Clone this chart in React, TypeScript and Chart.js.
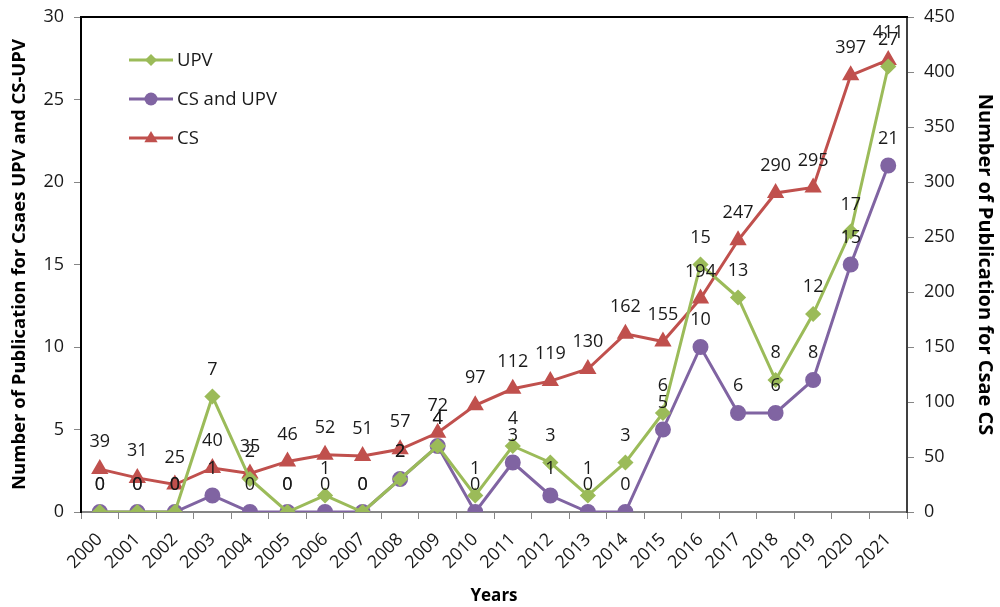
import React, { useEffect, useRef } from "react";
import { Chart, registerables } from "chart.js";

Chart.register(...registerables);

const years = ["2000","2001","2002","2003","2004","2005","2006","2007","2008","2009","2010","2011","2012","2013","2014","2015","2016","2017","2018","2019","2020","2021"];
const upv = [0,0,0,7,2,0,1,0,2,4,1,4,3,1,3,6,15,13,8,12,17,27];
const csAndUpv = [0,0,0,1,0,0,0,0,2,4,0,3,1,0,0,5,10,6,6,8,15,21];
const cs = [39,31,25,40,35,46,52,51,57,72,97,112,119,130,162,155,194,247,290,295,397,411];

const leftTicks = { min: 0, max: 30, step: 5 };
const rightTicks = { min: 0, max: 450, step: 50 };

const FONT = "'Open Sans', 'DejaVu Sans', sans-serif";
const GREEN = "#9BBB59";
const PURPLE = "#8064A2";
const RED = "#C0504D";

const labelsPlugin = {
  id: "valueLabels",
  afterDatasetsDraw(chart: any) {
    const ctx = chart.ctx;
    ctx.save();
    ctx.font = `18px ${FONT}`;
    ctx.fillStyle = "#1a1a1a";
    ctx.textAlign = "center";
    ctx.textBaseline = "middle";
    chart.data.datasets.forEach((ds: any, i: number) => {
      const meta = chart.getDatasetMeta(i);
      meta.data.forEach((pt: any, j: number) => {
        ctx.fillText(String(ds.data[j]), pt.x, pt.y - 27);
      });
    });
    ctx.restore();
  },
};

const framePlugin = {
  id: "frameLegend",
  afterDraw(chart: any) {
    const ctx = chart.ctx;
    const a = chart.chartArea;
    ctx.save();
    ctx.strokeStyle = "#000";
    ctx.lineWidth = 2;
    ctx.beginPath();
    ctx.moveTo(a.left - 1, a.top);
    ctx.lineTo(a.right + 1, a.top);
    ctx.stroke();
    // legend
    const items = chart.data.datasets;
    const ys = [60, 99, 138];
    items.forEach((ds: any, i: number) => {
      const y = ys[i];
      ctx.strokeStyle = ds.borderColor;
      ctx.lineWidth = 3;
      ctx.beginPath();
      ctx.moveTo(129, y);
      ctx.lineTo(173, y);
      ctx.stroke();
      ctx.fillStyle = ds.backgroundColor;
      const r = ds.pointRadius;
      ctx.beginPath();
      const cx = 151;
      if (ds.pointStyle === "rectRot") {
        ctx.moveTo(cx, y - r);
        ctx.lineTo(cx + r, y);
        ctx.lineTo(cx, y + r);
        ctx.lineTo(cx - r, y);
        ctx.closePath();
      } else if (ds.pointStyle === "triangle") {
        ctx.moveTo(cx, y - r);
        ctx.lineTo(cx + r * 0.95, y + r * 0.6);
        ctx.lineTo(cx - r * 0.95, y + r * 0.6);
        ctx.closePath();
      } else {
        ctx.arc(cx, y, r, 0, Math.PI * 2);
      }
      ctx.fill();
      ctx.font = `18.5px ${FONT}`;
      ctx.fillStyle = "#1a1a1a";
      ctx.textAlign = "left";
      ctx.textBaseline = "middle";
      ctx.fillText(ds.label, 177, y + 1);
    });
    ctx.restore();
  },
};

export default function App() {
  const ref = useRef<HTMLCanvasElement>(null);
  useEffect(() => {
    const chart = new Chart(ref.current!, {
      type: "line",
      data: {
        labels: years,
        datasets: [
          {
            label: "UPV",
            data: upv,
            borderColor: GREEN,
            backgroundColor: GREEN,
            borderWidth: 3,
            pointStyle: "rectRot",
            pointRadius: 6,
            yAxisID: "y",
          },
          {
            label: "CS and UPV",
            data: csAndUpv,
            borderColor: PURPLE,
            backgroundColor: PURPLE,
            borderWidth: 3,
            pointStyle: "circle",
            pointRadius: 6.5,
            yAxisID: "y",
          },
          {
            label: "CS",
            data: cs,
            borderColor: RED,
            backgroundColor: RED,
            borderWidth: 3,
            pointStyle: "triangle",
            pointRadius: 7,
            yAxisID: "y1",
          },
        ],
      },
      options: {
        animation: false,
        responsive: false,
        layout: { padding: { top: 17, left: 0, right: 0, bottom: 0 } },
        plugins: { legend: { display: false }, tooltip: { enabled: false } },
        scales: {
          x: {
            offset: true,
            grid: { display: true, drawOnChartArea: false, offset: true, tickLength: 7, color: "#868686" },
            border: { color: "#868686", width: 2 },
            ticks: { maxRotation: 45, minRotation: 45, color: "#1a1a1a", font: { family: FONT, size: 18 }, padding: 10 },
            title: { display: true, text: "Years", color: "#000", font: { family: FONT, size: 17, weight: "bold" }, padding: { top: 0, bottom: 1 } },
            afterFit: (s: any) => { s.height = 95; s.paddingLeft = 0; s.paddingRight = 0; },
          },
          y: {
            position: "left",
            min: leftTicks.min,
            max: leftTicks.max,
            grid: { display: true, drawOnChartArea: false, tickLength: 7, color: "#868686" },
            border: { color: "#000", width: 2 },
            ticks: { stepSize: leftTicks.step, color: "#1a1a1a", font: { family: FONT, size: 18 }, padding: 10 },
            title: { display: true, text: "Number of Publication for Csaes UPV and CS-UPV", color: "#000", font: { family: FONT, size: 18.5, weight: "bold" }, padding: { top: 9, bottom: 0 } },
            afterFit: (s: any) => { s.width = 81; s.paddingTop = 0; s.paddingBottom = 0; },
          },
          y1: {
            position: "right",
            min: rightTicks.min,
            max: rightTicks.max,
            grid: { display: true, drawOnChartArea: false, tickLength: 7, color: "#868686" },
            border: { color: "#404040", width: 2 },
            ticks: { stepSize: rightTicks.step, color: "#1a1a1a", font: { family: FONT, size: 18 }, padding: 10 },
            title: { display: true, text: "Number of Publication for Csae CS", color: "#000", font: { family: FONT, size: 20, weight: "bold" }, padding: { top: 3, bottom: 0 } },
            afterFit: (s: any) => { s.width = 93; s.paddingTop = 0; s.paddingBottom = 0; },
          },
        },
      },
      plugins: [labelsPlugin, framePlugin],
    });
    return () => chart.destroy();
  }, []);
  return (
    <div style={{ position: "fixed", left: 0, top: 0, width: 1000, height: 607, background: "#fff" }}>
      <canvas ref={ref} width={1000} height={607} style={{ width: 1000, height: 607 }} />
    </div>
  );
}
